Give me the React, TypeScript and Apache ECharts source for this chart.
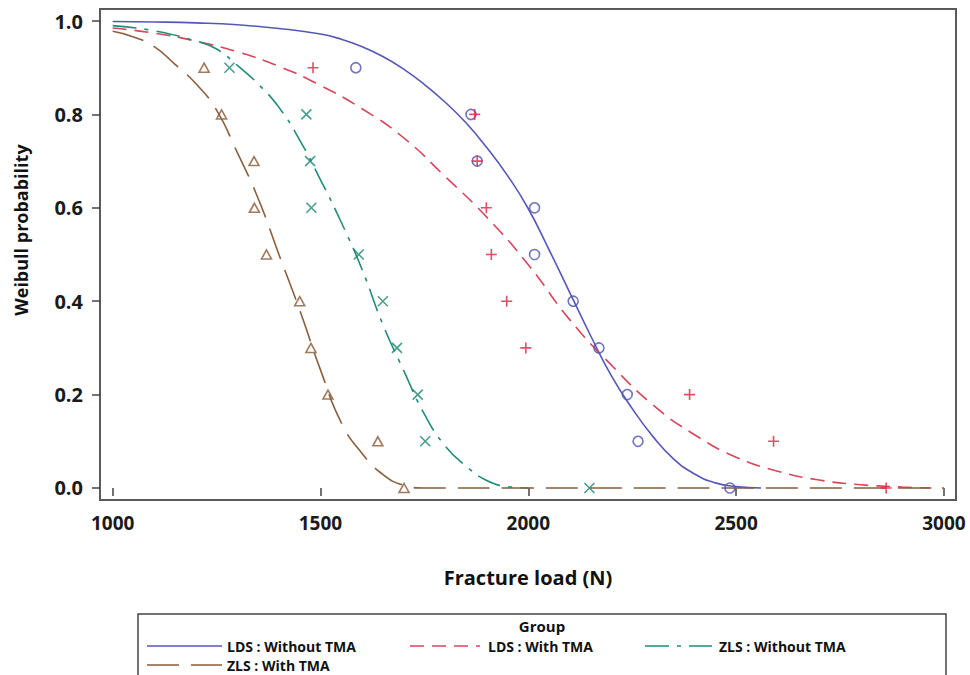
import React, { useEffect, useRef } from 'react';
import * as echarts from 'echarts';

const seriesNames = ['LDS : Without TMA', 'LDS : With TMA', 'ZLS : Without TMA', 'ZLS : With TMA'];
const xTickValues = [1000, 1500, 2000, 2500, 3000];
const yTickValues = [0, 0.2, 0.4, 0.6, 0.8, 1.0];

// Fitted Weibull curves
const ldsWithoutCurveLoad = [1000, 1100, 1200, 1300, 1400, 1500, 1550, 1600, 1650, 1700, 1750, 1800, 1850, 1900, 1950, 2000, 2050, 2100, 2150, 2200, 2250, 2300, 2350, 2400, 2450, 2500, 2560];
const ldsWithoutCurveProb = [0.999, 0.998, 0.996, 0.992, 0.984, 0.972, 0.961, 0.945, 0.924, 0.897, 0.864, 0.826, 0.782, 0.729, 0.669, 0.598, 0.51, 0.418, 0.326, 0.24, 0.17, 0.11, 0.062, 0.03, 0.011, 0.003, 0.0];

const ldsWithCurveLoad = [1000, 1100, 1200, 1300, 1400, 1500, 1600, 1700, 1800, 1900, 2000, 2100, 2200, 2300, 2400, 2500, 2600, 2700, 2800, 2900, 2970];
const ldsWithCurveProb = [0.985, 0.974, 0.957, 0.934, 0.903, 0.862, 0.812, 0.75, 0.667, 0.58, 0.478, 0.36, 0.263, 0.178, 0.114, 0.066, 0.036, 0.017, 0.007, 0.002, 0.0];

const zlsWithoutCurveLoad = [1000, 1100, 1200, 1250, 1300, 1350, 1400, 1450, 1500, 1550, 1600, 1650, 1700, 1750, 1800, 1850, 1900, 1950, 2000];
const zlsWithoutCurveProb = [0.99, 0.979, 0.957, 0.94, 0.905, 0.865, 0.815, 0.745, 0.66, 0.569, 0.468, 0.35, 0.252, 0.158, 0.09, 0.047, 0.016, 0.003, 0.0];

const zlsWithCurveLoad = [1000, 1050, 1100, 1150, 1200, 1250, 1300, 1350, 1400, 1450, 1500, 1550, 1600, 1650, 1700, 1750, 2000, 2500, 3000];
const zlsWithCurveProb = [0.978, 0.966, 0.945, 0.907, 0.866, 0.809, 0.718, 0.62, 0.5, 0.381, 0.253, 0.14, 0.074, 0.029, 0.006, 0.0, 0.0, 0.0, 0.0];

// Observed points
const pointProb = [0.9, 0.8, 0.7, 0.6, 0.5, 0.4, 0.3, 0.2, 0.1, 0.0];
const ldsWithoutPointLoad = [1585, 1862, 1877, 2015, 2015, 2108, 2170, 2238, 2264, 2485];
const ldsWithPointLoad = [1482, 1871, 1877, 1899, 1911, 1948, 1994, 2388, 2590, 2861];
const zlsWithoutPointLoad = [1281, 1466, 1475, 1478, 1592, 1650, 1684, 1734, 1752, 2147];
const zlsWithPointLoad = [1220, 1262, 1340, 1341, 1370, 1450, 1477, 1518, 1638, 1701];

const lineColors = ['#5558B8', '#D9455A', '#1F8C7C', '#8B5E3C'];
const markerColors = ['#4F52B2', '#E0203F', '#1A8571', '#8A5A35'];
const dashes: (string | number[])[] = ['solid', [14, 8], [24, 8, 4, 8], [32, 12]];

const FONT = '"Open Sans", Lato, sans-serif';

const pair = (xs: number[], ys: number[]) => xs.map((x, i) => [x, ys[i]]);

export default function App() {
  const ref = useRef<HTMLDivElement>(null);
  useEffect(() => {
    if (!ref.current) return;
    const chart = echarts.init(ref.current, null, { renderer: 'svg' });

    const curves = [
      pair(ldsWithoutCurveLoad, ldsWithoutCurveProb),
      pair(ldsWithCurveLoad, ldsWithCurveProb),
      pair(zlsWithoutCurveLoad, zlsWithoutCurveProb),
      pair(zlsWithCurveLoad, zlsWithCurveProb),
    ];
    const points = [
      pair(ldsWithoutPointLoad, pointProb),
      pair(ldsWithPointLoad, pointProb),
      pair(zlsWithoutPointLoad, pointProb),
      pair(zlsWithPointLoad, pointProb),
    ];
    const symbols = [
      'circle',
      'path://M5,0L5,10M0,5L10,5',
      'path://M0,0L10,10M10,0L0,10',
      'triangle',
    ];
    const symbolSizes = [[10, 10], [11, 11], [10, 10], [10, 9]];

    const lineSeries = curves.map((d, i) => ({
      name: seriesNames[i],
      type: 'line',
      data: d,
      showSymbol: false,
      smooth: 0.5,
      lineStyle: { color: lineColors[i], width: 1.6, type: dashes[i] },
      z: 2 + i,
      silent: true,
    }));
    const scatterSeries = points.map((d, i) => ({
      name: seriesNames[i] + ' pts',
      type: 'scatter',
      data: d,
      symbol: symbols[i],
      symbolSize: symbolSizes[i],
      itemStyle: { color: 'rgba(0,0,0,0)', borderColor: markerColors[i], borderWidth: 1.6 },
      z: 10 + i,
      silent: true,
    }));

    const legendRows = [
      { idx: 0, x1: 147, x2: 222, tx: 227, y: 646 },
      { idx: 1, x1: 410, x2: 480, tx: 488, y: 646 },
      { idx: 2, x1: 645, x2: 712, tx: 719, y: 646 },
      { idx: 3, x1: 147, x2: 222, tx: 227, y: 665 },
    ];
    const legendGraphics: any[] = [];
    legendRows.forEach((r) => {
      const d = dashes[r.idx];
      legendGraphics.push({
        type: 'line',
        shape: { x1: r.x1, y1: r.y, x2: r.x2, y2: r.y },
        style: { stroke: lineColors[r.idx], lineWidth: 1.6, lineDash: Array.isArray(d) ? d : null },
      });
      legendGraphics.push({
        type: 'text',
        x: r.tx,
        y: r.y,
        style: {
          text: seriesNames[r.idx],
          fill: '#111',
          font: `bold 14px ${FONT}`,
          textAlign: 'left',
          textVerticalAlign: 'middle',
        },
      });
    });

    chart.setOption({
      animation: false,
      backgroundColor: '#ffffff',
      textStyle: { fontFamily: FONT },
      grid: {
        left: 100,
        top: 9,
        width: 856,
        height: 491,
        show: true,
        borderColor: '#5a5a5a',
        borderWidth: 2,
        backgroundColor: 'transparent',
      },
      xAxis: {
        type: 'value',
        min: 969.5,
        max: 3029,
        axisLine: { show: false },
        splitLine: { show: false },
        axisTick: {
          show: true,
          inside: false,
          length: 8,
          lineStyle: { color: '#444', width: 1.5 },
          customValues: xTickValues,
        },
        axisLabel: {
          customValues: xTickValues,
          margin: 13,
          fontSize: 19,
          fontWeight: 'bold',
          color: '#1a1a1a',
          fontFamily: FONT,
          formatter: (v: number) => String(v),
        },
      },
      yAxis: {
        type: 'value',
        min: -0.0257,
        max: 1.0257,
        axisLine: { show: false },
        splitLine: { show: false },
        axisTick: {
          show: true,
          inside: false,
          length: 8,
          lineStyle: { color: '#444', width: 1.5 },
          customValues: yTickValues,
        },
        axisLabel: {
          customValues: yTickValues,
          margin: 17,
          fontSize: 20,
          fontWeight: 'bold',
          color: '#1a1a1a',
          fontFamily: FONT,
          formatter: (v: number) => v.toFixed(1),
        },
      },
      series: [...lineSeries, ...scatterSeries],
      graphic: [
        {
          type: 'text',
          x: 21,
          y: 230,
          rotation: Math.PI / 2,
          style: {
            text: 'Weibull probability',
            fill: '#111',
            font: `bold 18px ${FONT}`,
            textAlign: 'center',
            textVerticalAlign: 'middle',
          },
        },
        {
          type: 'text',
          x: 528,
          y: 577,
          style: {
            text: 'Fracture load (N)',
            fill: '#111',
            font: `bold 20px ${FONT}`,
            textAlign: 'center',
            textVerticalAlign: 'middle',
          },
        },
        {
          type: 'rect',
          shape: { x: 138, y: 614, width: 808, height: 90 },
          style: { fill: '#fff', stroke: '#444', lineWidth: 1.5 },
        },
        {
          type: 'text',
          x: 542,
          y: 626,
          style: {
            text: 'Group',
            fill: '#111',
            font: `bold 15px ${FONT}`,
            textAlign: 'center',
            textVerticalAlign: 'middle',
          },
        },
        ...legendGraphics,
      ],
    });
    return () => chart.dispose();
  }, []);
  return (
    <div
      ref={ref}
      style={{ position: 'fixed', left: 0, top: 0, width: 970, height: 675, background: '#fff' }}
    />
  );
}
